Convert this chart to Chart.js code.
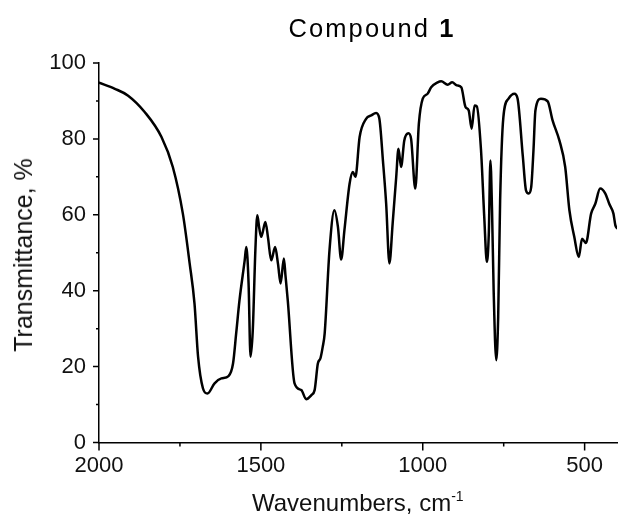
<!DOCTYPE html>
<html>
<head>
<meta charset="utf-8">
<script src="https://cdn.jsdelivr.net/npm/chart.js@4/dist/chart.umd.min.js"></script>
<style>
  html, body { margin: 0; padding: 0; background: #fff; }
  #wrap { position: relative; width: 618px; height: 519px; font-family: "Liberation Sans", Arial, sans-serif; color: #111; }
  #c { position: absolute; left: 0; top: 0; }
  .lbl { position: absolute; white-space: nowrap; line-height: 24px; }
  #title { left: 372px; top: 15px; transform: translateX(-50%); font-size: 25.5px; letter-spacing: 2.1px; line-height: 26px; color: #000; }
  #title b { font-weight: bold; }
  #xt { left: 252px; top: 491px; font-size: 24px; }
  #xt .sup { position: relative; top: -10px; font-size: 14px; }
  #yt { left: 23px; top: 255px; font-size: 25px; transform: translate(-50%, -50%) rotate(-90deg); }
</style>
</head>
<body>
<div id="wrap">
  <canvas id="c" width="618" height="519"></canvas>
  <div id="title" class="lbl">Compound <b>1</b></div>
  <div id="xt" class="lbl">Wavenumbers, cm<span class="sup">-1</span></div>
  <div id="yt" class="lbl">Transmittance, %</div>
</div>
<script>
// ---- data ----
const wavenumbers = [
  2000, 1951, 1910, 1859, 1807, 1772, 1741, 1720, 1705, 1694, 1679, 1665, 1643, 1622, 1600,
  1586, 1576, 1566, 1550, 1545, 1538, 1532, 1525, 1517, 1511, 1505, 1499, 1486, 1478, 1468,
  1456, 1447, 1439, 1429, 1424, 1417, 1396, 1375, 1360, 1344, 1334, 1324, 1316, 1309, 1303,
  1288, 1273, 1262, 1252, 1242, 1226, 1216, 1208, 1195, 1175, 1159, 1144, 1134, 1123, 1113,
  1103, 1093, 1082, 1075, 1067, 1057, 1044, 1036, 1023, 1012, 1000, 985, 974, 954, 943,
  923, 909, 895, 881, 868, 858, 849, 840, 833, 820, 810, 802, 796, 791, 786,
  781, 773, 767, 761, 751, 735, 717, 707, 691, 681, 673, 665, 658, 652, 635,
  614, 599, 578, 560, 547, 532, 518, 508, 496, 480, 467, 452, 436, 424, 411,
  405, 400
];
const transmittance = [
  94.8, 93.2, 91.4, 87.1, 80.5, 72.6, 60.3, 47.2, 36.6, 22.6, 14.3, 12.9, 15.6, 16.9, 17.5,
  20.8, 29.0, 37.5, 48.0, 51.5, 42.0, 22.6, 29.6, 50.7, 59.9, 56.5, 54.2, 58.1, 54.0, 48.0,
  51.5, 47.0, 41.9, 48.5, 44.0, 37.5, 15.6, 13.8, 11.4, 12.5, 13.8, 20.8, 22.2, 25.2, 28.7,
  50.7, 61.2, 56.8, 48.2, 55.9, 68.2, 71.3, 70.0, 80.5, 85.3, 86.2, 86.8, 85.3, 74.3, 62.9,
  47.2, 57.7, 69.9, 77.4, 72.6, 79.6, 81.5, 80.0, 66.9, 84.0, 90.6, 91.9, 93.6, 94.9, 95.2,
  94.3, 94.9, 94.1, 93.6, 88.4, 87.5, 82.7, 88.8, 88.6, 77.0, 59.4, 47.6, 55.0, 74.3, 61.2,
  40.1, 21.7, 33.1, 63.8, 85.7, 90.6, 91.9, 90.6, 75.5, 66.4, 65.6, 67.3, 77.0, 87.5, 90.6,
  89.9, 84.9, 79.6, 72.6, 61.2, 54.2, 48.9, 53.7, 52.6, 60.3, 62.9, 66.9, 65.6, 62.9, 60.3,
  57.2, 56.5
];
const xMajorTicks = [2000, 1500, 1000, 500];
const xMinorTicks = [1750, 1250, 750];
const yMajorTicks = [0, 20, 40, 60, 80, 100];
const yMinorTicks = [10, 30, 50, 70, 90];

const points = wavenumbers.map((w, i) => ({ x: w, y: transmittance[i] }));

const FONT = '"Liberation Sans", Arial, sans-serif';

const tickMarks = {
  id: 'tickMarks',
  afterDraw(chart) {
    const { ctx, scales: { x, y }, chartArea } = chart;
    ctx.save();
    ctx.strokeStyle = '#000';
    ctx.lineWidth = 1.5;
    ctx.beginPath();
    const b = chartArea.bottom, l = chartArea.left;
    xMajorTicks.forEach(v => { const p = x.getPixelForValue(v); ctx.moveTo(p, b); ctx.lineTo(p, b + 8); });
    xMinorTicks.forEach(v => { const p = x.getPixelForValue(v); ctx.moveTo(p, b); ctx.lineTo(p, b + 4); });
    yMajorTicks.forEach(v => { const p = y.getPixelForValue(v); ctx.moveTo(l, p); ctx.lineTo(l - 6, p); });
    yMinorTicks.forEach(v => { const p = y.getPixelForValue(v); ctx.moveTo(l, p); ctx.lineTo(l - 3, p); });
    ctx.stroke();
    ctx.restore();
  }
};

new Chart(document.getElementById('c'), {
  type: 'line',
  data: {
    datasets: [{
      data: points,
      borderColor: '#000',
      borderWidth: 2.5,
      pointRadius: 0,
      fill: false,
      cubicInterpolationMode: 'monotone',
      borderJoinStyle: 'round',
      borderCapStyle: 'round'
    }]
  },
  options: {
    responsive: false,
    animation: false,
    events: [],
    layout: { padding: { top: 63, right: 1, left: 0, bottom: 0 } },
    plugins: { legend: { display: false }, title: { display: false }, tooltip: { enabled: false } },
    scales: {
      x: {
        type: 'linear',
        reverse: true,
        min: 400,
        max: 2000,
        afterBuildTicks: s => { s.ticks = xMajorTicks.map(v => ({ value: v })); },
        afterFit: s => { s.height = 76.5; },
        grid: { display: true, drawOnChartArea: false, drawTicks: false, color: '#000' },
        border: { display: true, color: '#000', width: 1.5 },
        ticks: { color: '#111', font: { family: FONT, size: 22 }, padding: 10, maxRotation: 0, autoSkip: false, callback: v => String(v) }
      },
      y: {
        type: 'linear',
        min: 0,
        max: 100,
        afterBuildTicks: s => { s.ticks = yMajorTicks.map(v => ({ value: v })); },
        afterFit: s => { s.width = 99; },
        grid: { display: true, drawOnChartArea: false, drawTicks: false, color: '#000' },
        border: { display: true, color: '#000', width: 1.5 },
        ticks: { color: '#111', font: { family: FONT, size: 22 }, padding: 13, callback: v => String(v) }
      }
    }
  },
  plugins: [tickMarks]
});
</script>
</body>
</html>
